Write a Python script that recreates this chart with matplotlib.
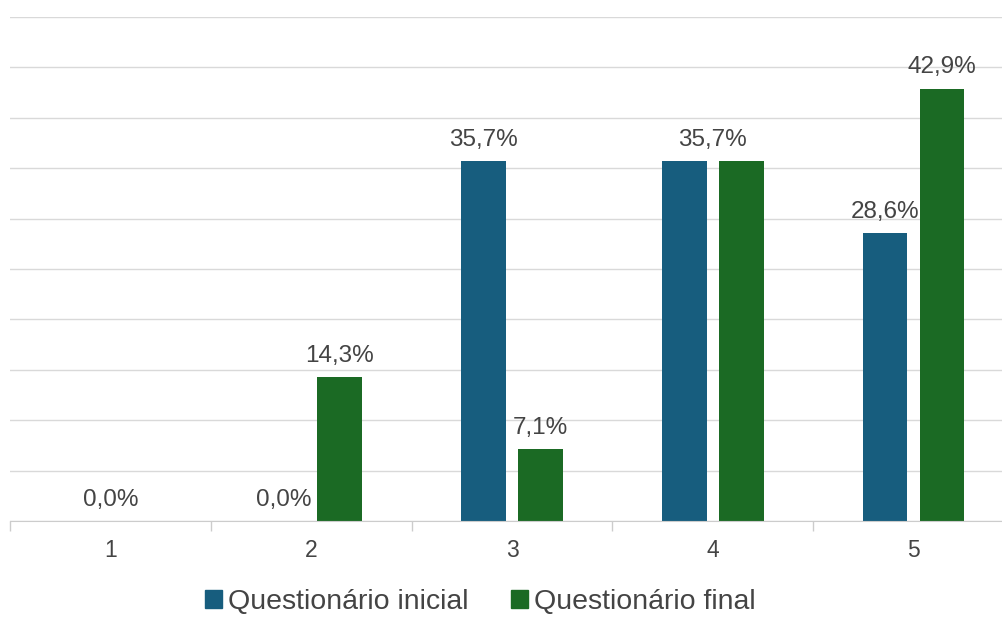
import numpy as np
import matplotlib
matplotlib.use("Agg")
import matplotlib.pyplot as plt
from matplotlib.patches import Patch

plt.rcParams["font.family"] = ["Liberation Sans", "DejaVu Sans"]

categories = ["1", "2", "3", "4", "5"]
inicial = [0.0, 0.0, 35.7, 35.7, 28.6]
final = [0.0, 14.3, 7.1, 35.7, 42.9]
series_names = ["Questionário inicial", "Questionário final"]

BLUE = "#175d7e"
GREEN = "#1b6a24"
TXT = "#444444"

fig = plt.figure(figsize=(10.03, 6.17), dpi=100)
# plot area runs a little past the right edge of the figure, like the original
ax = fig.add_axes([10 / 1003, 96 / 617, 1004 / 1003, 504 / 617])

x = np.arange(len(categories))
w = 0.222
off = 0.142
ax.bar(x - off, inicial, w, color=BLUE, zorder=3)
ax.bar(x + off, final, w, color=GREEN, zorder=3)

def fmt(v):
    return f"{v:.1f}%".replace(".", ",")

lab = dict(va="bottom", fontsize=17.5, color=TXT, zorder=4)
for i in range(len(categories)):
    a, b = inicial[i], final[i]
    if a == b:
        # overlapping labels collapse into one at the category centre
        ax.text(x[i], a + 1.0, fmt(a), ha="center", **lab)
        continue
    if a == 0:
        ax.text(x[i] + off - w / 2 - 0.03, 1.0, fmt(a), ha="right", **lab)
    else:
        ax.text(x[i] - off, a + 1.0, fmt(a), ha="center", **lab)
    ax.text(x[i] + off, b + 1.0, fmt(b), ha="center", **lab)

ax.set_xlim(-0.5, len(categories) - 0.5)
ax.set_ylim(0, 50)
ax.set_yticks(np.arange(0, 51, 5))
ax.yaxis.grid(True, color="#d9d9d9", linewidth=1.0, zorder=0)
ax.tick_params(axis="y", length=0, labelleft=False)

ax.set_xticks(x)
ax.set_xticklabels(categories, fontsize=16.5, color=TXT)
ax.set_xticks(np.arange(-0.5, len(categories), 1), minor=True)
ax.tick_params(axis="x", which="major", length=0, pad=13)
ax.tick_params(axis="x", which="minor", length=7, color="#cccccc", width=1)

for s in ["top", "right", "left"]:
    ax.spines[s].set_visible(False)
ax.spines["bottom"].set_color("#cccccc")
ax.spines["bottom"].set_zorder(4)

handles = [Patch(color=BLUE), Patch(color=GREEN)]
fig.legend(handles, series_names, loc="center", bbox_to_anchor=(480 / 1003, 1 - 602 / 617),
           ncol=2, frameon=False, fontsize=20.5, labelcolor=TXT, borderpad=0.1,
           handlelength=0.6, handleheight=0.6, handletextpad=0.2, columnspacing=1.5)

fig.savefig("out.png", dpi=100)
